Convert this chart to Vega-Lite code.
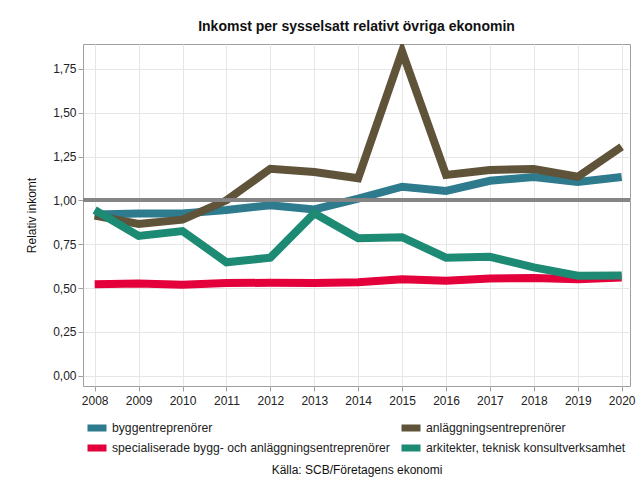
{
  "$schema": "https://vega.github.io/schema/vega-lite/v6.json",
  "width": 547,
  "height": 342,
  "autosize": "none",
  "padding": {"left": 83, "top": 44, "right": 6, "bottom": 95},
  "background": "white",
  "config": {
    "font": "Liberation Sans",
    "view": {"stroke": "#a0a0a0", "strokeWidth": 1},
    "axis": {"gridColor": "#e6e6e6", "domain": false, "tickColor": "#a0a0a0", "tickSize": 5, "labelColor": "#222", "labelFontSize": 12, "labelFont": "Liberation Sans", "titleFont": "Liberation Sans", "titleFontWeight": "normal", "titleFontSize": 12, "titleColor": "#111"}
  },
  "title": {"text": "Inkomst per sysselsatt relativt övriga ekonomin", "fontSize": 14, "fontWeight": "bold", "font": "Liberation Sans", "anchor": "middle", "offset": 10, "color": "#111"},
  "data": {
    "values": [
      {"serie": "byggentreprenörer", "ar": 2008, "v": 0.92},
      {"serie": "byggentreprenörer", "ar": 2009, "v": 0.925},
      {"serie": "byggentreprenörer", "ar": 2010, "v": 0.925},
      {"serie": "byggentreprenörer", "ar": 2011, "v": 0.945},
      {"serie": "byggentreprenörer", "ar": 2012, "v": 0.972},
      {"serie": "byggentreprenörer", "ar": 2013, "v": 0.948},
      {"serie": "byggentreprenörer", "ar": 2014, "v": 1.01},
      {"serie": "byggentreprenörer", "ar": 2015, "v": 1.078},
      {"serie": "byggentreprenörer", "ar": 2016, "v": 1.054},
      {"serie": "byggentreprenörer", "ar": 2017, "v": 1.112},
      {"serie": "byggentreprenörer", "ar": 2018, "v": 1.133},
      {"serie": "byggentreprenörer", "ar": 2019, "v": 1.105},
      {"serie": "byggentreprenörer", "ar": 2020, "v": 1.133},
      {"serie": "specialiserade bygg- och anläggningsentreprenörer", "ar": 2008, "v": 0.521},
      {"serie": "specialiserade bygg- och anläggningsentreprenörer", "ar": 2009, "v": 0.526},
      {"serie": "specialiserade bygg- och anläggningsentreprenörer", "ar": 2010, "v": 0.518},
      {"serie": "specialiserade bygg- och anläggningsentreprenörer", "ar": 2011, "v": 0.528},
      {"serie": "specialiserade bygg- och anläggningsentreprenörer", "ar": 2012, "v": 0.53},
      {"serie": "specialiserade bygg- och anläggningsentreprenörer", "ar": 2013, "v": 0.528},
      {"serie": "specialiserade bygg- och anläggningsentreprenörer", "ar": 2014, "v": 0.533},
      {"serie": "specialiserade bygg- och anläggningsentreprenörer", "ar": 2015, "v": 0.55},
      {"serie": "specialiserade bygg- och anläggningsentreprenörer", "ar": 2016, "v": 0.542},
      {"serie": "specialiserade bygg- och anläggningsentreprenörer", "ar": 2017, "v": 0.554},
      {"serie": "specialiserade bygg- och anläggningsentreprenörer", "ar": 2018, "v": 0.557},
      {"serie": "specialiserade bygg- och anläggningsentreprenörer", "ar": 2019, "v": 0.55},
      {"serie": "specialiserade bygg- och anläggningsentreprenörer", "ar": 2020, "v": 0.56},
      {"serie": "anläggningsentreprenörer", "ar": 2008, "v": 0.913},
      {"serie": "anläggningsentreprenörer", "ar": 2009, "v": 0.865},
      {"serie": "anläggningsentreprenörer", "ar": 2010, "v": 0.89},
      {"serie": "anläggningsentreprenörer", "ar": 2011, "v": 1.0},
      {"serie": "anläggningsentreprenörer", "ar": 2012, "v": 1.18},
      {"serie": "anläggningsentreprenörer", "ar": 2013, "v": 1.162},
      {"serie": "anläggningsentreprenörer", "ar": 2014, "v": 1.126},
      {"serie": "anläggningsentreprenörer", "ar": 2015, "v": 1.85},
      {"serie": "anläggningsentreprenörer", "ar": 2016, "v": 1.145},
      {"serie": "anläggningsentreprenörer", "ar": 2017, "v": 1.173},
      {"serie": "anläggningsentreprenörer", "ar": 2018, "v": 1.179},
      {"serie": "anläggningsentreprenörer", "ar": 2019, "v": 1.135},
      {"serie": "anläggningsentreprenörer", "ar": 2020, "v": 1.306},
      {"serie": "arkitekter, teknisk konsultverksamhet", "ar": 2008, "v": 0.945},
      {"serie": "arkitekter, teknisk konsultverksamhet", "ar": 2009, "v": 0.797},
      {"serie": "arkitekter, teknisk konsultverksamhet", "ar": 2010, "v": 0.825},
      {"serie": "arkitekter, teknisk konsultverksamhet", "ar": 2011, "v": 0.647},
      {"serie": "arkitekter, teknisk konsultverksamhet", "ar": 2012, "v": 0.673},
      {"serie": "arkitekter, teknisk konsultverksamhet", "ar": 2013, "v": 0.926},
      {"serie": "arkitekter, teknisk konsultverksamhet", "ar": 2014, "v": 0.784},
      {"serie": "arkitekter, teknisk konsultverksamhet", "ar": 2015, "v": 0.79},
      {"serie": "arkitekter, teknisk konsultverksamhet", "ar": 2016, "v": 0.673},
      {"serie": "arkitekter, teknisk konsultverksamhet", "ar": 2017, "v": 0.678},
      {"serie": "arkitekter, teknisk konsultverksamhet", "ar": 2018, "v": 0.618},
      {"serie": "arkitekter, teknisk konsultverksamhet", "ar": 2019, "v": 0.57},
      {"serie": "arkitekter, teknisk konsultverksamhet", "ar": 2020, "v": 0.572}
    ]
  },
  "layer": [
    {
      "mark": {"type": "line", "strokeWidth": 8, "strokeJoin": "miter", "strokeCap": "butt", "clip": true},
      "encoding": {
        "x": {
          "field": "ar", "type": "quantitative",
          "scale": {"domain": [2007.734, 2020.19], "nice": false, "zero": false},
          "axis": {"values": [2008, 2009, 2010, 2011, 2012, 2013, 2014, 2015, 2016, 2017, 2018, 2019, 2020], "format": "d", "labelPadding": 4, "title": "Källa: SCB/Företagens ekonomi", "titlePadding": 58, "titleFontSize": 12}
        },
        "y": {
          "field": "v", "type": "quantitative",
          "scale": {"domain": [-0.059, 1.892], "nice": false, "zero": false},
          "axis": {"values": [0, 0.25, 0.5, 0.75, 1, 1.25, 1.5, 1.75], "labelExpr": "replace(format(datum.value, '.2f'), '.', ',')", "title": "Relativ inkomt", "titlePadding": 14}
        },
        "color": {
          "field": "serie", "type": "nominal",
          "scale": {
            "domain": ["byggentreprenörer", "specialiserade bygg- och anläggningsentreprenörer", "anläggningsentreprenörer", "arkitekter, teknisk konsultverksamhet"],
            "range": ["#2e7b8d", "#e4003b", "#5f5339", "#1d8a73"]
          },
          "legend": {
            "title": null, "orient": "none", "legendX": 1, "legendY": 377, "columns": 2, "columnPadding": 8, "rowPadding": 6, "clipHeight": 14,
            "symbolType": "stroke", "symbolSize": 361, "symbolStrokeWidth": 7, "labelFontSize": 12.2, "labelFont": "Liberation Sans", "labelColor": "#222", "labelOffset": 2, "labelLimit": 400
          }
        }
      }
    },
    {
      "mark": {"type": "rule", "color": "#858585", "strokeWidth": 3},
      "encoding": {"y": {"datum": 1}}
    }
  ]
}
